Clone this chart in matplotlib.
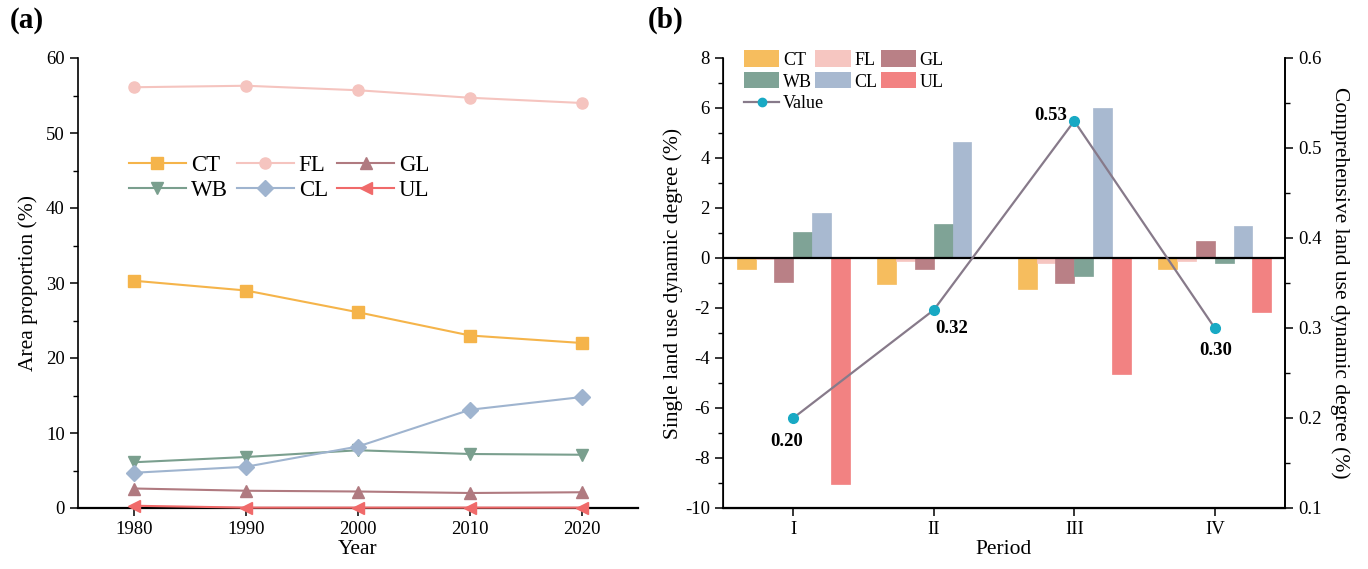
import matplotlib
matplotlib.use("Agg")
import matplotlib.pyplot as plt
import numpy as np
from matplotlib.ticker import MultipleLocator
from matplotlib.patches import Patch
from matplotlib.lines import Line2D

plt.rcParams['font.family'] = ['Liberation Serif', 'DejaVu Serif']
plt.rcParams['axes.unicode_minus'] = False

# ---- data panel (a)
years = [1980, 1990, 2000, 2010, 2020]
CT = [30.3, 29.0, 26.1, 23.0, 22.0]
FL = [56.1, 56.3, 55.7, 54.7, 54.0]
GL = [2.6, 2.3, 2.2, 2.0, 2.1]
WB = [6.1, 6.8, 7.7, 7.2, 7.1]
CL = [4.7, 5.5, 8.2, 13.1, 14.8]
UL = [0.3, 0.05, 0.05, 0.05, 0.05]

# ---- data panel (b)
periods = ['I', 'II', 'III', 'IV']
CT_b = [-0.45, -1.02, -1.22, -0.45]
FL_b = [-0.03, -0.10, -0.20, -0.13]
GL_b = [-0.97, -0.43, -1.00, 0.70]
WB_b = [1.05, 1.37, -0.72, -0.20]
CL_b = [1.82, 4.65, 6.02, 1.27]
UL_b = [-9.05, 0.0, -4.65, -2.15]
value = [0.20, 0.32, 0.53, 0.30]
value_labels = ['0.20', '0.32', '0.53', '0.30']

names = ['CT', 'FL', 'GL', 'WB', 'CL', 'UL']
line_colors = ['#f5b44a', '#f5c4bf', '#b07a80', '#7a9f8e', '#9fb4cf', '#f06a6a']
markers = ['s', 'o', '^', 'v', 'D', '<']
bar_colors = ['#f6bd5e', '#f6c6c1', '#b98086', '#7fa396', '#a8b9d0', '#f28282']

W, H = 1368, 569
fig = plt.figure(figsize=(W/100, H/100), dpi=100)

def ax_rect(l, r, t, b):
    return [l/W, 1-b/H, (r-l)/W, (b-t)/H]

TICK = 13.5

# ---------- panel (a)
ax1 = fig.add_axes(ax_rect(78, 638, 58, 508))
series = [CT, FL, GL, WB, CL, UL]
hdl = {}
for s, n, c, m in zip(series, names, line_colors, markers):
    hdl[n], = ax1.plot(years, s, color=c, marker=m, markersize=8, lw=1.5, label=n,
                       clip_on=False, zorder=3)
ax1.set_xlim(1975, 2025)
ax1.set_ylim(0, 60)
ax1.set_xticks(years)
ax1.yaxis.set_major_locator(MultipleLocator(10))
ax1.yaxis.set_minor_locator(MultipleLocator(5))
for sp in ['top', 'right']:
    ax1.spines[sp].set_visible(False)
ax1.spines['left'].set_linewidth(1.2)
ax1.spines['bottom'].set_linewidth(1.6)
ax1.tick_params(axis='both', which='major', labelsize=TICK, direction='out', length=6, width=1.1)
ax1.tick_params(axis='y', which='minor', direction='out', length=3.5, width=1.0)
ax1.set_xlabel('Year', fontsize=15.5, labelpad=1)
ax1.set_ylabel('Area proportion (%)', fontsize=15.5, labelpad=6)
order = ['CT', 'WB', 'FL', 'CL', 'GL', 'UL']
ax1.legend([hdl[n] for n in order], order, ncol=3, loc='upper left',
           bbox_to_anchor=(0.062, 0.82), frameon=False,
           fontsize=16.5, handlelength=2.5, columnspacing=0.4, labelspacing=0.15,
           handletextpad=0.2, borderpad=0.2)
fig.text(10/W, 1-20/H, '(a)', fontsize=21, fontweight='bold', va='center', ha='left')

# ---------- panel (b)
ax2 = fig.add_axes(ax_rect(723, 1285, 58, 508))
x = np.arange(len(periods))
bw = 0.134
bars = [CT_b, FL_b, GL_b, WB_b, CL_b, UL_b]
for i, (b, c) in enumerate(zip(bars, bar_colors)):
    ax2.bar(x + (i - 2.5) * bw, b, width=bw, color=c, edgecolor=c, lw=0.5, zorder=2)
ax2.axhline(0, color='black', lw=1.6, zorder=3)
ax2.set_xlim(-0.5, 3.5)
ax2.set_ylim(-10, 8)
ax2.set_xticks(x)
ax2.set_xticklabels(periods)
ax2.yaxis.set_major_locator(MultipleLocator(2))
ax2.yaxis.set_minor_locator(MultipleLocator(1))
ax2.spines['top'].set_visible(False)
for sp in ['left', 'right']:
    ax2.spines[sp].set_linewidth(1.2)
ax2.spines['bottom'].set_linewidth(1.6)
ax2.tick_params(axis='both', which='major', labelsize=TICK, direction='out', length=6, width=1.1)
ax2.tick_params(axis='y', which='minor', direction='out', length=3.5, width=1.0)
ax2.set_xlabel('Period', fontsize=15.5, labelpad=1)
ax2.set_ylabel('Single land use dynamic degree (%)', fontsize=15.5, labelpad=1)

ax3 = ax2.twinx()
ax3.plot(x, value, color='#877a8a', lw=1.6, marker='o', markersize=7,
         markerfacecolor='#18a9c4', markeredgecolor='#18a9c4', zorder=5)
ax3.set_ylim(0.1, 0.6)
ax3.yaxis.set_minor_locator(MultipleLocator(0.05))
ax3.set_yticks([0.1, 0.2, 0.3, 0.4, 0.5, 0.6])
ax3.set_yticklabels(['0.1', '0.2', '0.3', '0.4', '0.5', '0.6'])
ax3.spines['top'].set_visible(False)
ax3.spines['right'].set_linewidth(1.2)
ax3.tick_params(axis='y', which='major', labelsize=TICK, direction='out', length=6, width=1.1)
ax3.tick_params(axis='y', which='minor', direction='out', length=3.5, width=1.0)
ax3.set_ylabel('Comprehensive land use dynamic degree (%)', fontsize=15.5, rotation=270, labelpad=20)

offsets = [(-5, -17), (13, -13), (-17, 4), (1, -16)]
for xi, v, lab, (dx, dy) in zip(x, value, value_labels, offsets):
    ax3.annotate(lab, (xi, v), xytext=(dx, dy), textcoords='offset points',
                 ha='center', va='center', fontsize=13.5, fontweight='bold')

bar_handles = [Patch(facecolor=bar_colors[names.index(n)], label=n) for n in order]
leg1 = ax3.legend(handles=bar_handles, ncol=3, loc='upper left', bbox_to_anchor=(0.015, 1.045),
                  frameon=False, fontsize=13, handlelength=1.95, handleheight=1.0,
                  columnspacing=0.2, labelspacing=0.2, handletextpad=0.2, borderpad=0.2)
ax3.add_artist(leg1)
val_handle = Line2D([], [], color='#877a8a', lw=1.6, marker='o', markersize=6,
                    markerfacecolor='#18a9c4', markeredgecolor='#18a9c4', label='Value')
ax3.legend(handles=[val_handle], loc='upper left', bbox_to_anchor=(0.015, 0.945),
           frameon=False, fontsize=13, handlelength=1.95, handletextpad=0.2, borderpad=0.2)

fig.text(648/W, 1-20/H, '(b)', fontsize=21, fontweight='bold', va='center', ha='left')

fig.savefig('out.png', dpi=100)
